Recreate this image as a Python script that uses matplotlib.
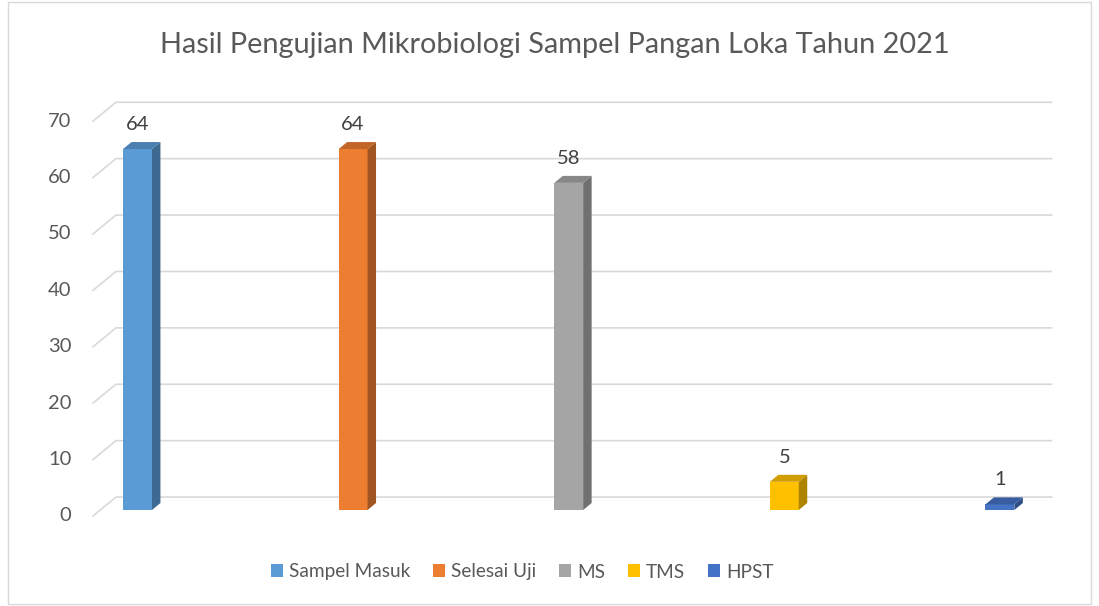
import matplotlib.pyplot as plt
from matplotlib.patches import Polygon, Patch, Rectangle
import matplotlib.colors as mcolors

categories = ['Sampel Masuk', 'Selesai Uji', 'MS', 'TMS', 'HPST']
values = [64, 64, 58, 5, 1]
colors = ['#5B9BD5', '#ED7D31', '#A5A5A5', '#FFC000', '#4472C4']
yticks = [0, 10, 20, 30, 40, 50, 60, 70]
title = 'Hasil Pengujian Mikrobiologi Sampel Pangan Loka Tahun 2021'

plt.rcParams['font.family'] = ['Lato', 'DejaVu Sans']

def shade(c, f):
    r, g, b = mcolors.to_rgb(c)
    return (r * f, g * f, b * f)

fig = plt.figure(figsize=(10.99, 6.06), dpi=100)
ax = fig.add_axes([0, 0, 1, 1])
# x in category units, y in value units (bar front plane)
ax.set_xlim(-137.5 / 215.6, (1099 - 137.5) / 215.6)
ax.set_ylim((510 - 606) / 5.64, 510 / 5.64)
ax.axis('off')

ddx, ddy = 0.0394, 1.24      # 3d depth offset for one depth unit
d_front, d_back = -0.85, 1.85  # walls depth
x_left = -0.2064
x_right = 4.2393
bw = 0.134
grid_c = '#D9D9D9'

for t in yticks:
    x0, y0 = x_left, t + d_front * ddy
    x1, y1 = x_left + (d_back - d_front) * ddx, t + d_back * ddy
    ax.plot([x0, x1, x_right], [y0, y1, y1], color=grid_c, lw=1.2, zorder=1)
    ax.text(x0 - 0.1, y0, str(t), ha='right', va='center', fontsize=14.5, color='#595959')

for i, v in enumerate(values):
    c = colors[i]
    xl, xr = i - bw / 2, i + bw / 2
    front = Rectangle((xl, 0), bw, v, facecolor=c, edgecolor='none', zorder=3)
    side = Polygon([(xr, 0), (xr + ddx, ddy), (xr + ddx, v + ddy), (xr, v)],
                   closed=True, facecolor=shade(c, 0.68), edgecolor='none', zorder=3)
    top = Polygon([(xl, v), (xl + ddx, v + ddy), (xr + ddx, v + ddy), (xr, v)],
                  closed=True, facecolor=shade(c, 0.82), edgecolor='none', zorder=3)
    ax.add_patch(front)
    ax.add_patch(side)
    ax.add_patch(top)
    ax.text(i, v + ddy + 3.1, str(v), ha='center', va='center', fontsize=14.5, color='#404040')

fig.text(555 / 1099, 1 - 45 / 606, title, ha='center', va='center', fontsize=20.8, color='#595959')

handles = [Patch(facecolor=c, edgecolor='none') for c in colors]
fig.legend(handles, categories, loc='center', bbox_to_anchor=(522 / 1099, 1 - 572 / 606),
           ncol=5, frameon=False, fontsize=13.7, handlelength=0.65, handleheight=0.65,
           handletextpad=0.3, columnspacing=1.2, labelcolor='#595959')

fig.patches.append(Rectangle((8 / 1099, 2 / 606), 1083 / 1099, 602 / 606, transform=fig.transFigure,
                             fill=False, edgecolor=grid_c, lw=1.0))

fig.savefig('out.png', dpi=100)
